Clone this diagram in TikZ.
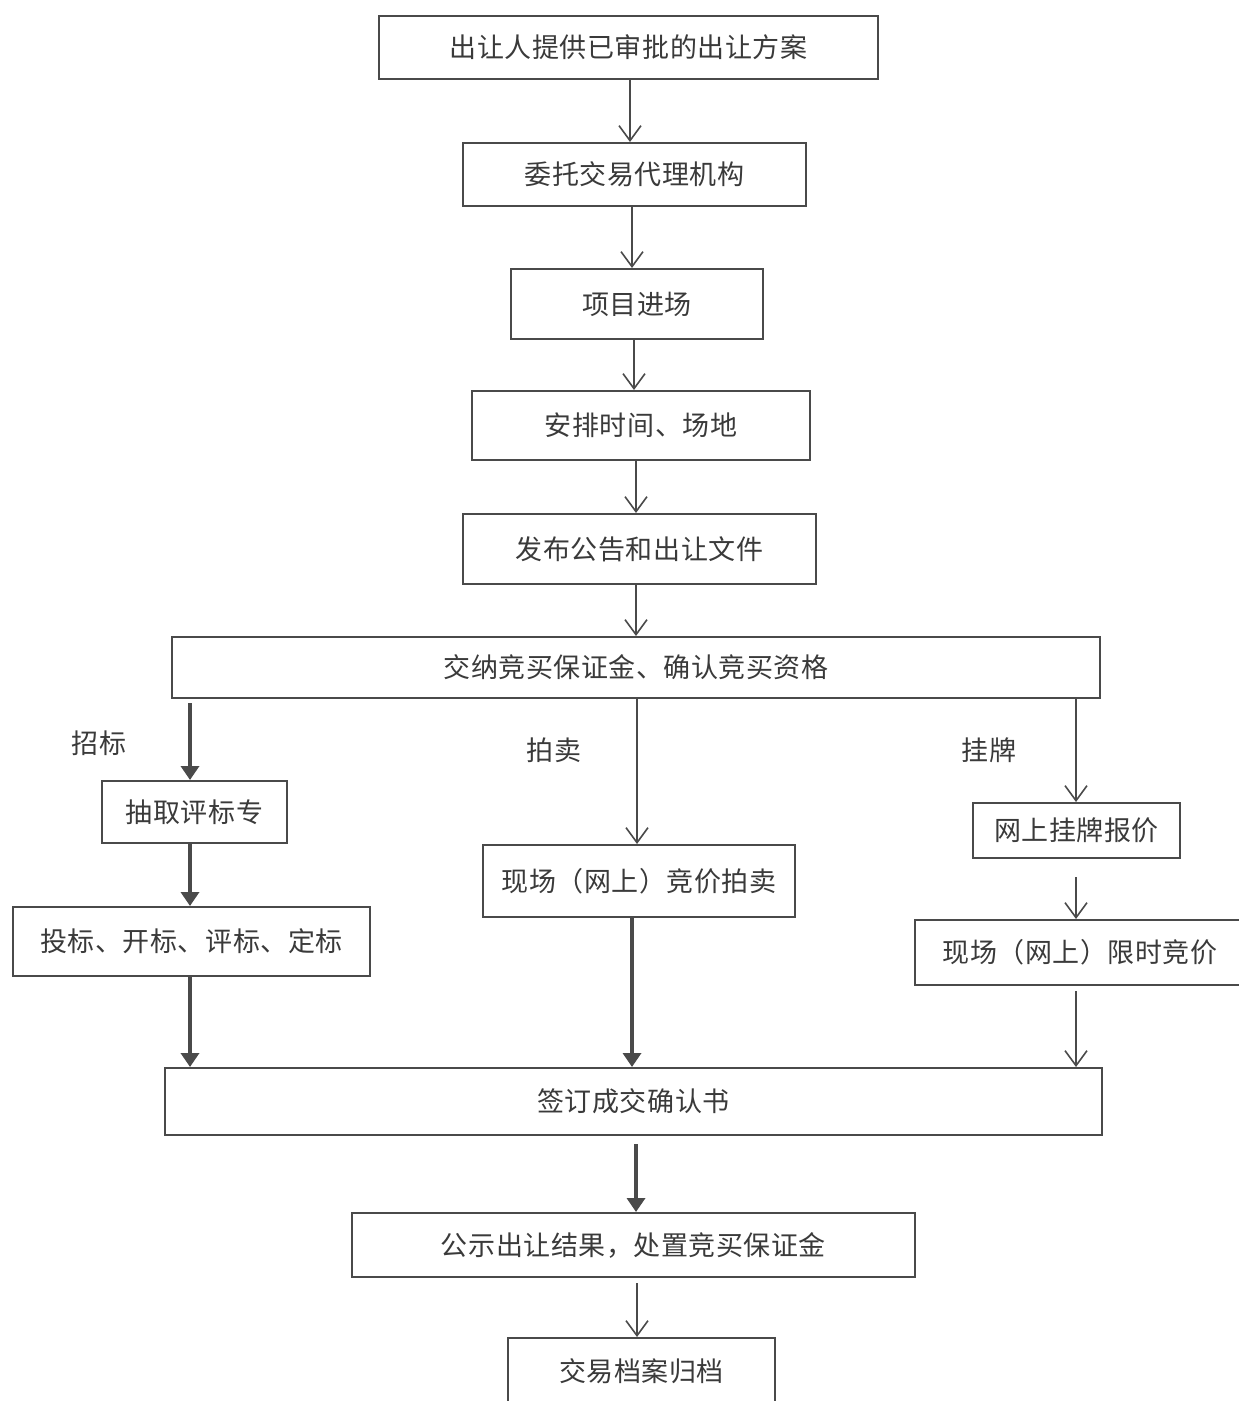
\documentclass[tikz,border=0pt]{standalone}
\usepackage{fontspec}
\newfontfamily\cjk[LetterSpace=2]{Noto Sans CJK SC}
\usetikzlibrary{arrows.meta}
\definecolor{linec}{HTML}{4A4A4A}
\definecolor{textc}{HTML}{3A3A3A}
\begin{document}
\begin{tikzpicture}[x=0.5pt,y=-0.5pt,
  box/.style={draw=linec, line width=1pt, rectangle, inner sep=0pt, text=textc,
    font=\cjk\fontsize{13.5pt}{15pt}\selectfont},
  lbl/.style={text=textc, inner sep=0pt, font=\cjk\fontsize{13.5pt}{15pt}\selectfont},
  thinarr/.style={draw=linec, line width=0.8pt, -{Straight Barb[length=7.5pt,width=11pt,line width=0.8pt]}},
  thickarr/.style={draw=linec, line width=2pt, -{Triangle[length=7pt,width=9pt]}}]
\useasboundingbox (0,0) rectangle (1238,1401);
\fill[white] (0,0) rectangle (1238,1401);

\node[box, minimum width=249.5pt, minimum height=31.5pt] (b1) at (628.5,47.5) {出让人提供已审批的出让方案};
\node[box, minimum width=171.5pt, minimum height=31.5pt] (b2) at (634.5,174.5) {委托交易代理机构};
\node[box, minimum width=126pt, minimum height=35pt] (b3) at (637,304) {项目进场};
\node[box, minimum width=169pt, minimum height=34.5pt] (b4) at (641,425.5) {安排时间、场地};
\node[box, minimum width=176.5pt, minimum height=35pt] (b5) at (639.5,549) {发布公告和出让文件};
\node[box, minimum width=464pt, minimum height=30.5pt] (b6) at (636,667.5) {交纳竞买保证金、确认竞买资格};
\node[box, minimum width=92.5pt, minimum height=31pt] (b7) at (194.5,812) {抽取评标专};
\node[box, minimum width=178.5pt, minimum height=34.5pt] (b8) at (191.5,941.5) {投标、开标、评标、定标};
\node[box, minimum width=156pt, minimum height=36pt] (b9) at (639,881) {现场（网上）竞价拍卖};
\node[box, minimum width=103.5pt, minimum height=27.5pt] (b10) at (1076.5,830.5) {网上挂牌报价};
\node[box, minimum width=165pt, minimum height=32.5pt] (b11) at (1080,952.5) {现场（网上）限时竞价};
\node[box, minimum width=468.5pt, minimum height=33.5pt] (b12) at (633.5,1101.5) {签订成交确认书};
\node[box, minimum width=281.5pt, minimum height=32pt] (b13) at (633.5,1245) {公示出让结果，处置竞买保证金};
\node[box, minimum width=133.5pt, minimum height=38pt] (b14) at (641.5,1376) {};
\node[lbl] (t14) at (641.5,1371) {交易档案归档};

\node[lbl] (l1) at (99,743) {招标};
\node[lbl] (l2) at (554,750) {拍卖};
\node[lbl] (l3) at (989,750) {挂牌};

\coordinate (x630) at (630,0);
\coordinate (x632) at (632,0);
\coordinate (x634) at (634,0);
\coordinate (x636) at (636,0);
\coordinate (x637) at (637,0);
\coordinate (x190) at (190,0);
\coordinate (x1076) at (1076,0);

\draw[thinarr] (b1.south -| x630) -- (b2.north -| x630);
\draw[thinarr] (b2.south -| x632) -- (b3.north -| x632);
\draw[thinarr] (b3.south -| x634) -- (b4.north -| x634);
\draw[thinarr] (b4.south -| x636) -- (b5.north -| x636);
\draw[thinarr] (b5.south -| x636) -- (b6.north -| x636);
\draw[thickarr, shorten <=2pt] (b6.south -| x190) -- (b7.north -| x190);
\draw[thinarr] (b6.south -| x637) -- (b9.north -| x637);
\draw[thinarr] (b6.south -| x1076) -- (b10.north -| x1076);
\draw[thickarr] (b7.south -| x190) -- (b8.north -| x190);
\draw[thinarr, shorten <=9pt] (b10.south -| x1076) -- (b11.north -| x1076);
\draw[thickarr] (b8.south -| x190) -- (b12.north -| x190);
\draw[thickarr] (b9.south -| x632) -- (b12.north -| x632);
\draw[thinarr, shorten <=2.5pt] (b11.south -| x1076) -- (b12.north -| x1076);
\draw[thickarr, shorten <=4pt] (b12.south -| x636) -- (b13.north -| x636);
\draw[thinarr, shorten <=2.5pt] (b13.south -| x637) -- (b14.north -| x637);
\end{tikzpicture}
\end{document}
